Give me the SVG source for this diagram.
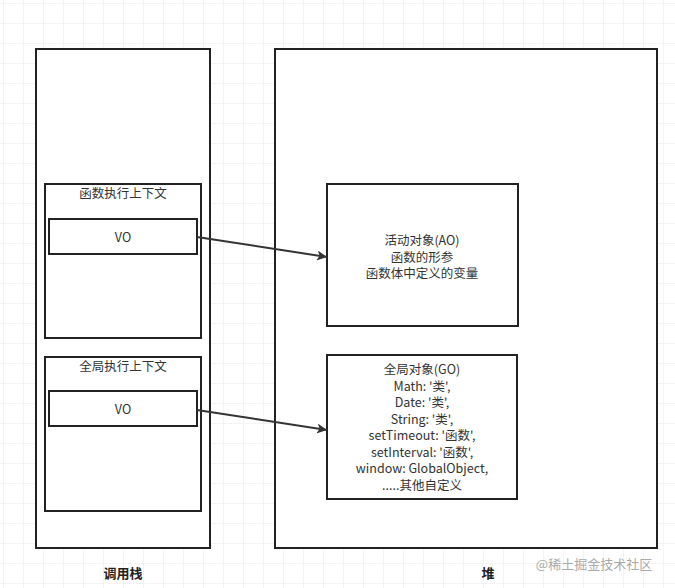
<svg xmlns="http://www.w3.org/2000/svg" width="675" height="588" viewBox="0 0 675 588">
<defs>
<pattern id="grid" width="20" height="20" patternUnits="userSpaceOnUse" x="4" y="4">
<path d="M20 0V20M0 20H20" fill="none" stroke="#e8e8e8" stroke-width="1"/>
</pattern>
<marker id="ah" viewBox="0 0 10 10" refX="10" refY="5" markerWidth="10" markerHeight="10" markerUnits="userSpaceOnUse" orient="auto">
<path d="M0 0L10 5L0 10L2.5 5Z" fill="#333"/>
</marker>
<style>
.b{fill:#fff;stroke:#222;stroke-width:2}
.t{font-family:"Noto Sans CJK SC","Noto Sans",sans-serif;font-size:12.5px;fill:#333;text-anchor:middle}
.l{font-family:"Noto Sans CJK SC",sans-serif;font-size:13px;font-weight:bold;fill:#222;text-anchor:middle}
</style>
</defs>
<rect width="675" height="588" fill="#fff"/>
<rect width="675" height="588" fill="url(#grid)"/>
<g id="stack"><rect class="b" x="36" y="49" width="174" height="499"/></g>
<g id="heap"><rect class="b" x="275" y="49" width="382" height="499"/></g>
<g id="funcCtx"><rect class="b" x="45" y="184" width="156" height="154"/><text class="t" x="123" y="198">函数执行上下文</text></g>
<g id="vo1"><rect class="b" x="49" y="219" width="148" height="35"/><text class="t" x="123" y="242">VO</text></g>
<g id="globalCtx"><rect class="b" x="45" y="357" width="156" height="154"/><text class="t" x="123" y="371">全局执行上下文</text></g>
<g id="vo2"><rect class="b" x="49" y="391" width="148" height="35"/><text class="t" x="123" y="414">VO</text></g>
<g id="ao"><rect class="b" x="327" y="184" width="191" height="142"/>
<text class="t" x="422" y="245">活动对象(AO)</text><text class="t" x="422" y="261.5">函数的形参</text><text class="t" x="422" y="278">函数体中定义的变量</text></g>
<g id="go"><rect class="b" x="327" y="355" width="190" height="144"/>
<text class="t" x="422" y="374">全局对象(GO)</text>
<text class="t" x="422" y="390.5">Math: '类',</text>
<text class="t" x="422" y="407">Date: '类',</text>
<text class="t" x="422" y="423.5">String: '类',</text>
<text class="t" x="422" y="440">setTimeout: '函数',</text>
<text class="t" x="422" y="456.5">setInterval: '函数',</text>
<text class="t" x="422" y="473">window: GlobalObject,</text>
<text class="t" x="422" y="489.5">.....其他自定义</text></g>
<g id="connectors" stroke="#333" stroke-width="2" fill="none">
<path d="M197 237L327 257" marker-end="url(#ah)"/>
<path d="M197 410L327 430" marker-end="url(#ah)"/>
</g>
<text class="l" x="123" y="578">调用栈</text>
<text class="l" x="488" y="578">堆</text>
<text x="594" y="569" style="font-family:'Noto Sans CJK SC',sans-serif;font-size:13px;fill:#aaa;text-anchor:middle">@稀土掘金技术社区</text>
</svg>
